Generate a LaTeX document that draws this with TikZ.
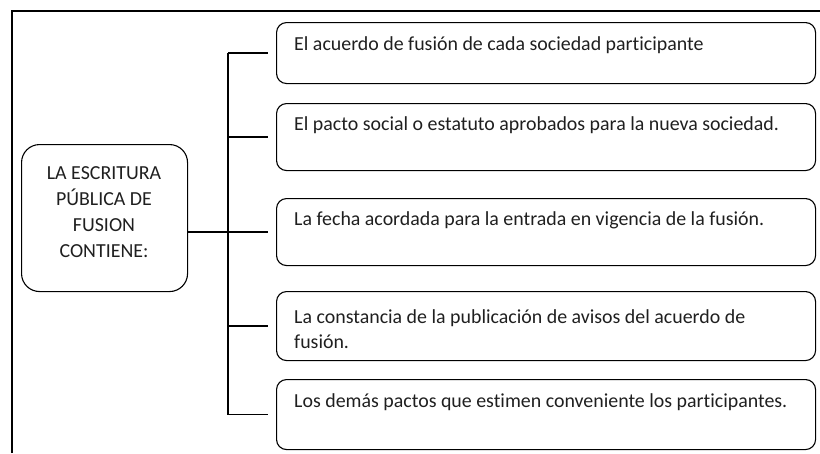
\documentclass[tikz,border=0pt]{standalone}
\usepackage{fontspec}
\setmainfont{Carlito}[Ligatures={NoCommon}]
\begin{document}
\begin{tikzpicture}[x=1pt,y=-1pt,
  itembox/.style={draw=black, line width=1.1pt, rounded corners=10pt, anchor=north west, inner sep=0pt},
  rootbox/.style={draw=black, line width=1.1pt, rounded corners=18pt, anchor=north west, inner sep=0pt, minimum width=166pt, minimum height=147pt},
  itemtext/.style={inner sep=0pt, font=\fontsize{19.9}{25}\selectfont, text=black!88, align=left},
  roottext/.style={inner sep=0pt, font=\fontsize{19.9}{26}\selectfont, text=black!88, align=center},
  link/.style={draw=black, line width=1.4pt},
  frameline/.style={draw=black, line width=1.3pt}]
\useasboundingbox (0,0) rectangle (820,453);
\draw[frameline] (12,453) -- (12,11) -- (820,11);
% root
\node[rootbox] (root) at (21,144) {};
\node[roottext] (rt) at (104,212) {LA ESCRITURA\\PÚBLICA DE\\FUSION\\CONTIENE:};
% item boxes
\node[itembox, minimum width=539pt, minimum height=61pt] (b1) at (276,22) {};
\node[itembox, minimum width=539pt, minimum height=67pt] (b2) at (276,103) {};
\node[itembox, minimum width=539pt, minimum height=67pt] (b3) at (276,198) {};
\node[itembox, minimum width=539pt, minimum height=69pt] (b4) at (276,291) {};
\node[itembox, minimum width=539pt, minimum height=70pt] (b5) at (276,379) {};
\node[itemtext, anchor=mid west] (t1) at (294,48) {El acuerdo de fusión de cada sociedad participante};
\node[itemtext, anchor=mid west] (t2) at (294,128) {El pacto social o estatuto aprobados para la nueva sociedad.};
\node[itemtext, anchor=mid west] (t3) at (294,223) {La fecha acordada para la entrada en vigencia de la fusión.};
\node[itemtext, anchor=west] (t4) at (294,329) {La constancia de la publicación de avisos del acuerdo de\\fusión.};
\node[itemtext, anchor=mid west] (t5) at (294,405) {Los demás pactos que estimen conveniente los participantes.};
% connectors
\coordinate (trunk) at (228,0);
\draw[link] (trunk|-b1.west) -- (trunk|-b5.west);
\draw[link] (root.east|-b3.west) -- ([xshift=-8pt]b3.west);
\foreach \b in {b1,b2,b4,b5}
  \draw[link] (trunk|-\b.west) -- ([xshift=-8pt]\b.west);
\end{tikzpicture}
\end{document}
